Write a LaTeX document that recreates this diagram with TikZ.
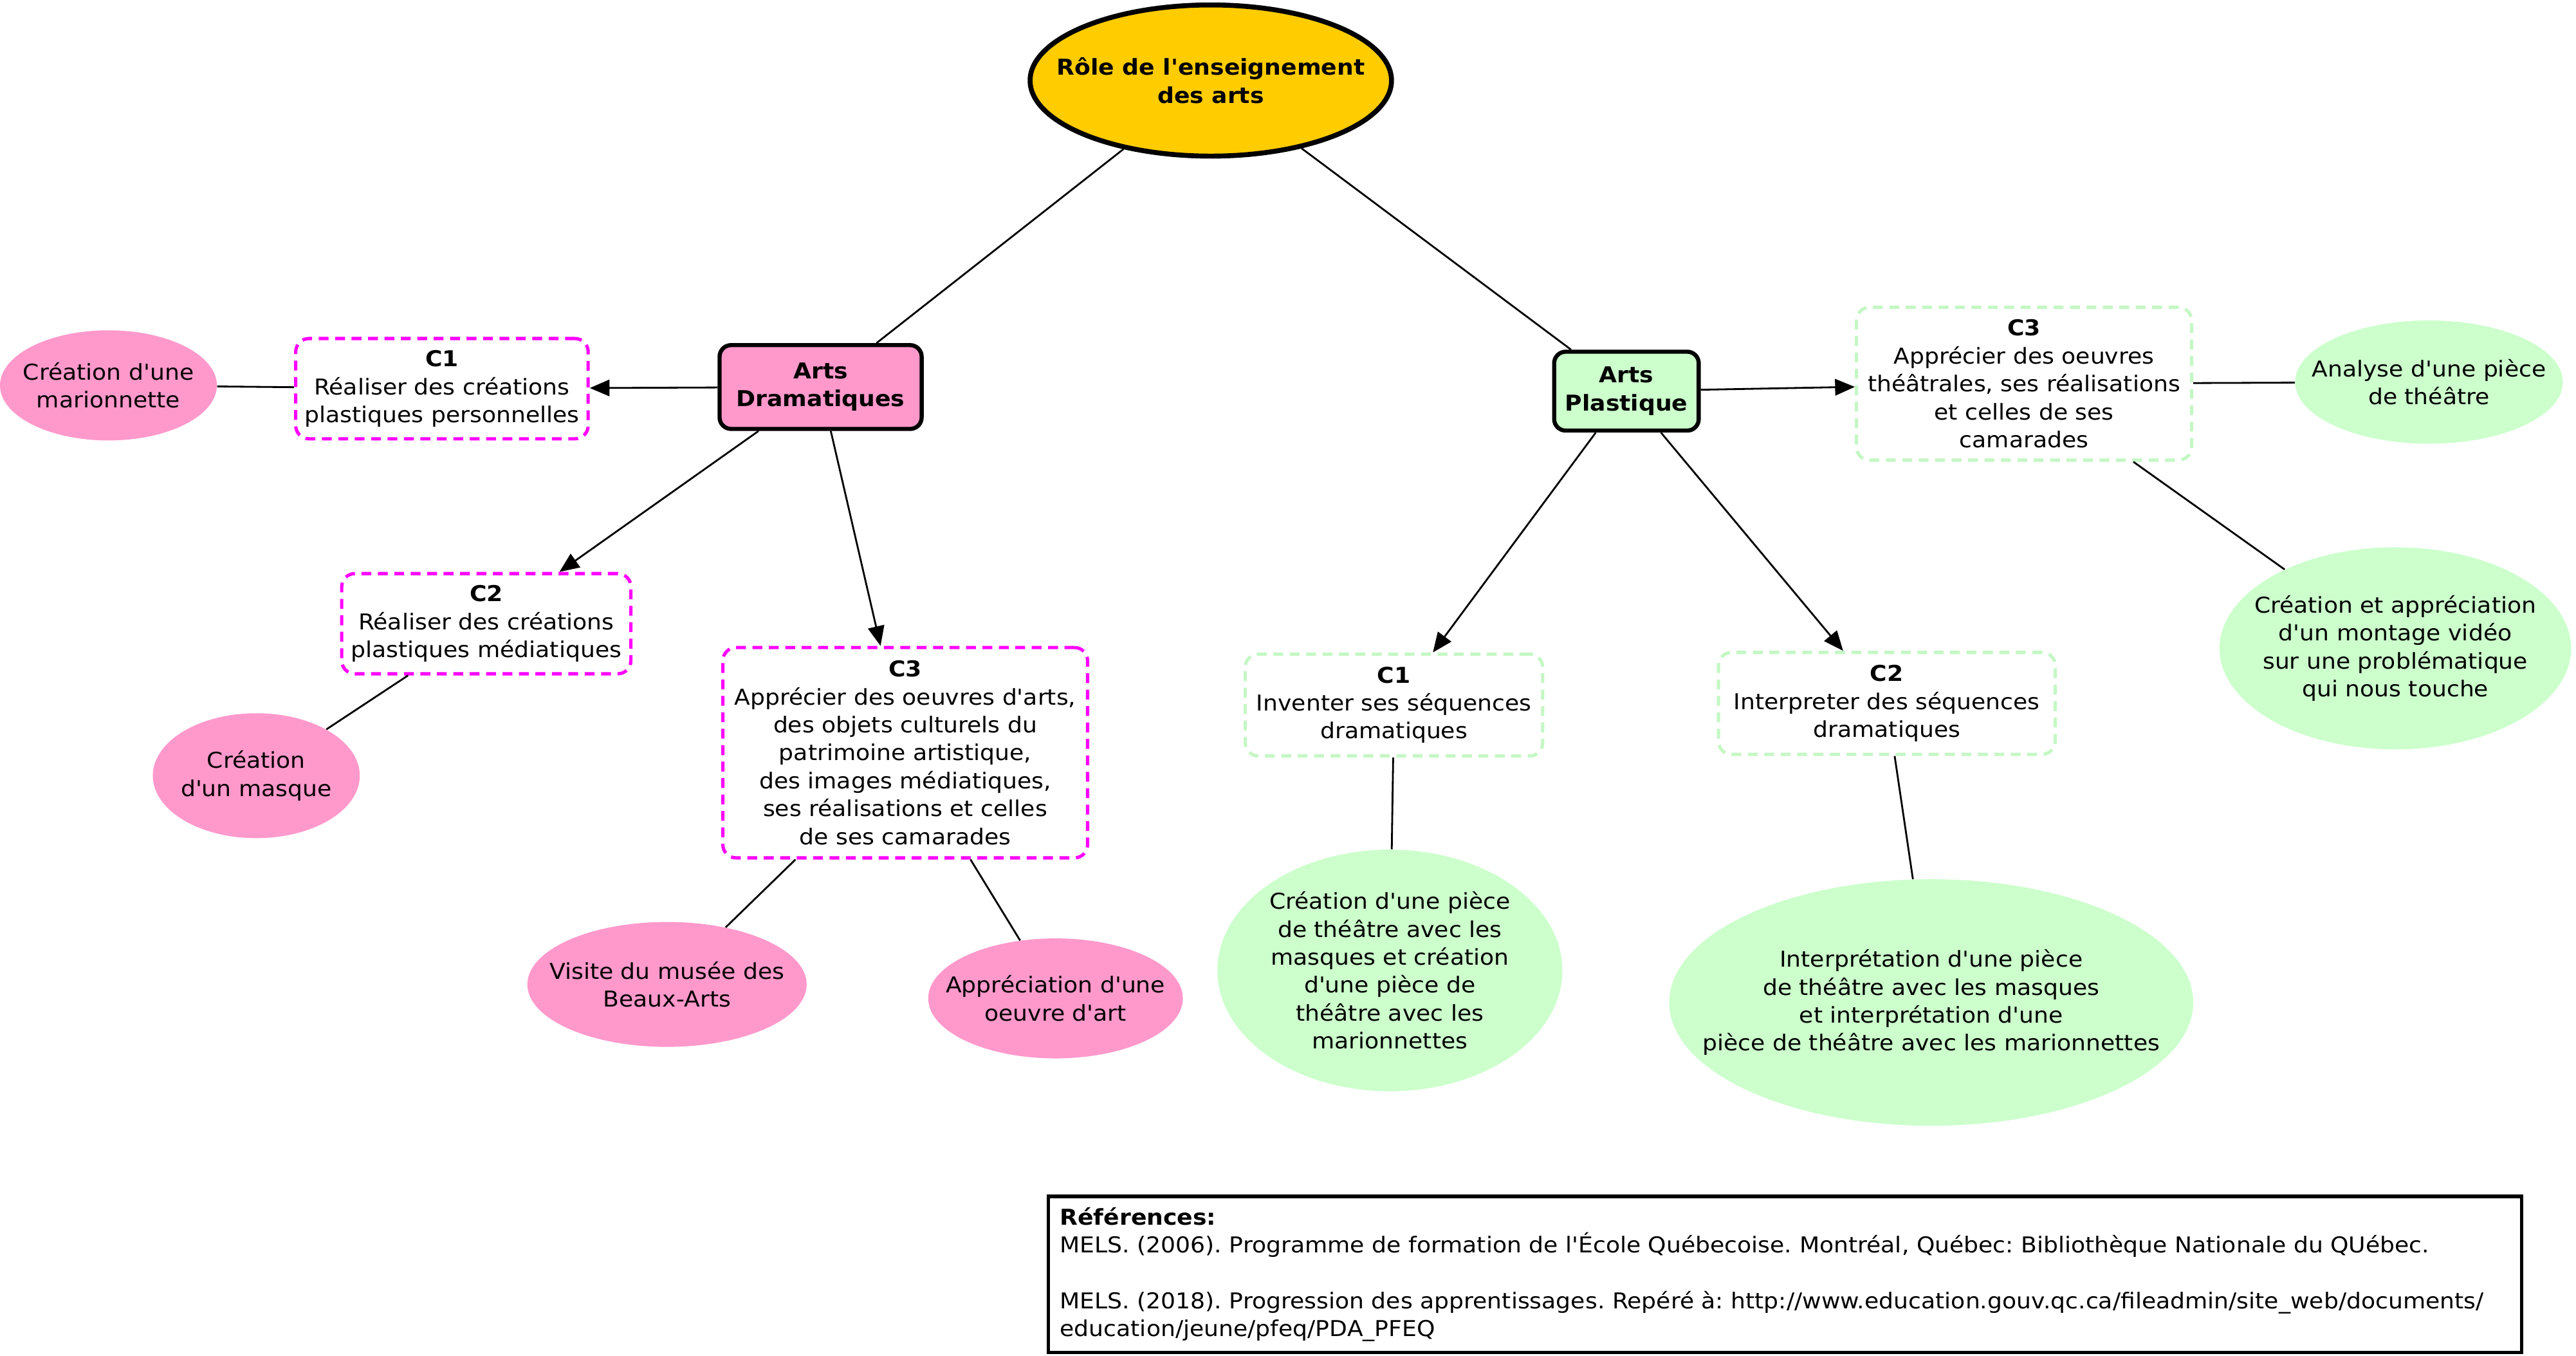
\documentclass[tikz,border=0pt]{standalone}
\usepackage{fontspec}
\newfontfamily\vfont{DejaVu Sans}[FakeStretch=1.065]
\usetikzlibrary{shapes.geometric,arrows.meta}
\definecolor{pinkf}{HTML}{FF99CC}
\definecolor{greenf}{HTML}{CCFFCC}
\definecolor{goldf}{HTML}{FFCC00}
\definecolor{mag}{HTML}{FF00FF}
\definecolor{greend}{HTML}{C4F7C4}
\tikzset{
  every node/.style={font=\vfont\fontsize{13.3}{17}\selectfont\frenchspacing, align=center, inner sep=0pt},
  rootnode/.style={ellipse, draw=black, line width=3pt, fill=goldf},
  artsbox/.style={rectangle, rounded corners=7pt, draw=black, line width=2.5pt},
  compbox/.style={rectangle, rounded corners=8pt, line width=2pt, dash pattern=on 6pt off 4pt, fill=white},
  magbox/.style={compbox, draw=mag},
  grbox/.style={compbox, draw=greend},
  pinkell/.style={ellipse, fill=pinkf},
  greenell/.style={ellipse, fill=greenf},
  conn/.style={line width=1.1pt, draw=black},
  arr/.style={conn, -{Triangle[length=12pt,width=10pt]}},
  refbox/.style={rectangle, draw=black, line width=2pt}
}
\begin{document}
\begin{tikzpicture}[x=1pt,y=-1pt]
\useasboundingbox (0,0) rectangle (1568,825.1);
% root
\node[rootnode, minimum width=220pt, minimum height=92pt] (root) at (737,49) {};
\node (root-t) at (root) {\bfseries Rôle de l'enseignement\\\bfseries des arts};
% Arts
\node[artsbox, fill=pinkf, minimum width=123pt, minimum height=51pt] (dram) at (499.5,235.5) {\bfseries Arts\\\bfseries Dramatiques};
\node[artsbox, fill=greenf, minimum width=88pt, minimum height=48pt] (plast) at (990,238) {\bfseries Arts\\\bfseries Plastique};
% Dramatiques side
\node[magbox, minimum width=178pt, minimum height=61pt] (c1d) at (269,236.5) {\textbf{C1}\\Réaliser des créations\\plastiques personnelles};
\node[pinkell, minimum width=132pt, minimum height=67pt] (marion) at (66,234.5) {};
\node (marion-t) at (marion) {Création d'une\\marionnette};
\node[magbox, minimum width=176pt, minimum height=61pt] (c2d) at (296,379.5) {\textbf{C2}\\Réaliser des créations\\plastiques médiatiques};
\node[pinkell, minimum width=126pt, minimum height=76pt] (masque) at (156,472) {};
\node (masque-t) at (masque) {Création\\d'un masque};
\node[magbox, minimum width=222pt, minimum height=128pt] (c3d) at (551,458) {\textbf{C3}\\Apprécier des oeuvres d'arts,\\des objets culturels du\\patrimoine artistique,\\des images médiatiques,\\ses réalisations et celles\\de ses camarades};
\node[pinkell, minimum width=170pt, minimum height=76pt] (visite) at (406,599) {};
\node (visite-t) at (visite) {Visite du musée des\\Beaux-Arts};
\node[pinkell, minimum width=155pt, minimum height=73pt] (apprec) at (642.5,607.5) {};
\node (apprec-t) at (apprec) {Appréciation d'une\\oeuvre d'art};
% Plastique side
\node[grbox, minimum width=204pt, minimum height=93pt] (c3p) at (1232,233.5) {\textbf{C3}\\Apprécier des oeuvres\\théâtrales, ses réalisations\\et celles de ses\\camarades};
\node[greenell, minimum width=163pt, minimum height=75pt] (analyse) at (1478.5,232.5) {};
\node (analyse-t) at (analyse) {Analyse d'une pièce\\de théâtre};
\node[greenell, minimum width=214pt, minimum height=123pt] (montage) at (1458,394.5) {};
\node (montage-t) at (montage) {Création et appréciation\\d'un montage vidéo\\sur une problématique\\qui nous touche};
\node[grbox, minimum width=181pt, minimum height=62pt] (c1p) at (848.5,429) {\textbf{C1}\\Inventer ses séquences\\dramatiques};
\node[greenell, minimum width=210pt, minimum height=147pt] (piece) at (846,590.5) {};
\node (piece-t) at (piece) {Création d'une pièce\\de théâtre avec les\\masques et création\\d'une pièce de\\théâtre avec les\\marionnettes};
\node[grbox, minimum width=205pt, minimum height=62pt] (c2p) at (1148.5,428) {\textbf{C2}\\Interpreter des séquences\\dramatiques};
\node[greenell, minimum width=319pt, minimum height=150pt] (interp) at (1175.5,610) {};
\node (interp-t) at (interp) {Interprétation d'une pièce\\de théâtre avec les masques\\et interprétation d'une\\pièce de théâtre avec les marionnettes};
% References
\node[refbox, minimum width=897pt, minimum height=95pt] (refs) at (1086.5,775.5) {};
\node[anchor=west, align=left] (refs-t) at ([xshift=8pt]refs.west) {\textbf{Références:}\\MELS. (2006). Programme de formation de l'École Québecoise. Montréal, Québec: Bibliothèque Nationale du QUébec.\\[17pt]MELS. (2018). Progression des apprentissages. Repéré à: http://www.education.gouv.qc.ca/fileadmin/site\_web/documents/\\education/jeune/pfeq/PDA\_PFEQ};
% connectors
\draw[conn] (root) -- (dram);
\draw[conn] (root) -- (plast);
\draw[arr] (dram) -- (c1d);
\draw[arr] (dram) -- (c2d);
\draw[arr] (dram) -- (c3d);
\draw[conn] (c1d) -- (marion);
\draw[conn] (c2d) -- (masque);
\draw[conn] (c3d) -- (visite);
\draw[conn] (c3d) -- (apprec);
\draw[arr] (plast) -- (c3p);
\draw[arr] (plast) -- (c1p);
\draw[arr] (plast) -- (c2p);
\draw[conn] (c3p) -- (analyse);
\draw[conn] (c3p) -- (montage);
\draw[conn] (c1p) -- (piece);
\draw[conn] (c2p) -- (interp);
\end{tikzpicture}
\end{document}
